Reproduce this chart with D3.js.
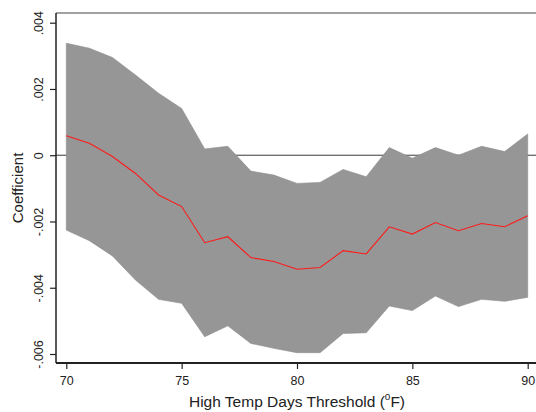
<!DOCTYPE html>
<html><head><meta charset="utf-8">
<script src="https://cdn.jsdelivr.net/npm/d3@7"></script>
<style>body{margin:0;background:#fff}svg{display:block}</style>
</head><body>
<script>
const thresholds = [70,71,72,73,74,75,76,77,78,79,80,81,82,83,84,85,86,87,88,89,90];
const coef  = [0.59,0.36,-0.04,-0.55,-1.20,-1.55,-2.64,-2.46,-3.09,-3.21,-3.44,-3.39,-2.88,-2.98,-2.16,-2.38,-2.03,-2.28,-2.06,-2.16,-1.83].map(v=>v/1000);
const upper = [3.38,3.23,2.95,2.42,1.87,1.41,0.19,0.27,-0.48,-0.60,-0.85,-0.82,-0.43,-0.65,0.23,-0.09,0.23,0.00,0.27,0.11,0.64].map(v=>v/1000);
const lower = [-2.26,-2.58,-3.04,-3.77,-4.35,-4.47,-5.48,-5.15,-5.68,-5.83,-5.96,-5.96,-5.38,-5.36,-4.55,-4.69,-4.25,-4.57,-4.35,-4.41,-4.29].map(v=>v/1000);
const yTicks = [0.004,0.002,0,-0.002,-0.004,-0.006];
const yTickLabels = [".004",".002","0","-.002","-.004","-.006"];
const xTicks = [70,75,80,85,90];

const W=536,H=412;
const L=56,T=13,R=545,B=363;
const x = d3.scaleLinear().domain([70,90]).range([66.3,527.7]);
const y = d3.scaleLinear().domain([-0.006,0.004]).range([354,22.7]);
const svg = d3.select("body").append("svg").attr("width",W).attr("height",H);
const font = "'Liberation Sans', Arial, sans-serif";

// zero line (behind band)
svg.append("line").attr("x1",L).attr("x2",R).attr("y1",y(0)).attr("y2",y(0))
  .attr("stroke","#3a3a3a").attr("stroke-width",1);

const data = thresholds.map((t,i)=>({t,c:coef[i],u:upper[i],l:lower[i]}));
svg.append("path").datum(data)
  .attr("d",d3.area().x(d=>x(d.t)).y0(d=>y(d.l)).y1(d=>y(d.u)))
  .attr("fill","#969696").attr("stroke","#8c8c8c").attr("stroke-width",0.6);
svg.append("path").datum(data)
  .attr("d",d3.line().x(d=>x(d.t)).y(d=>y(d.c)))
  .attr("fill","none").attr("stroke","#ff1a1a").attr("stroke-width",1.1);

// frame top
svg.append("line").attr("x1",L).attr("x2",R).attr("y1",T).attr("y2",T).attr("stroke","#444").attr("stroke-width",1.2);

// y axis
const yAxis = svg.append("g").attr("transform",`translate(${L},0)`)
  .call(d3.axisLeft(y).tickValues(yTicks).tickFormat((d,i)=>yTickLabels[i]).tickSize(6).tickSizeOuter(0));
yAxis.select(".domain").attr("d",`M0,${T}V${B}`).attr("stroke","#222").attr("stroke-width",1.5);
yAxis.selectAll(".tick line").attr("stroke","#222").attr("stroke-width",1.2);
yAxis.selectAll(".tick text").attr("font-family",font).attr("font-size",12.5).attr("fill","#222")
  .attr("x",0).attr("y",0).attr("dy","0em").attr("text-anchor","middle")
  .attr("transform","translate(-13,0) rotate(-90)");

// x axis
const xAxis = svg.append("g").attr("transform",`translate(0,${B})`)
  .call(d3.axisBottom(x).tickValues(xTicks).tickFormat(d3.format("d")).tickSize(6).tickSizeOuter(0));
xAxis.select(".domain").attr("d",`M${L},0H${R}`).attr("stroke","#222").attr("stroke-width",2);
xAxis.selectAll(".tick line").attr("stroke","#222").attr("stroke-width",1.2);
xAxis.selectAll(".tick text").attr("font-family",font).attr("font-size",12.5).attr("fill","#222").attr("y",13);

// titles
const xt = svg.append("text").attr("x",297).attr("y",407).attr("text-anchor","middle")
  .attr("font-family",font).attr("font-size",15.5).attr("fill","#222");
xt.append("tspan").text("High Temp Days Threshold (");
xt.append("tspan").attr("font-size",10).attr("dy",-7).text("o");
xt.append("tspan").attr("dy",7).text("F)");

svg.append("text").attr("transform",`translate(23,188) rotate(-90)`).attr("text-anchor","middle")
  .attr("font-family",font).attr("font-size",15).attr("fill","#222").text("Coefficient");
</script>
</body></html>
